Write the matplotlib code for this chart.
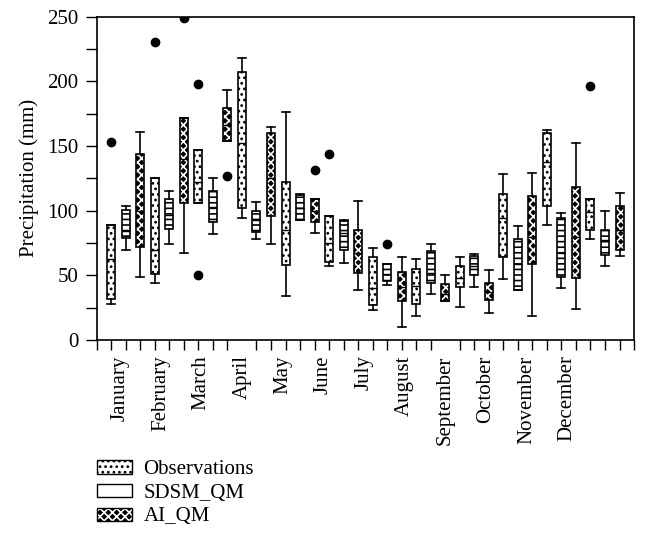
import matplotlib
matplotlib.use("Agg")
import matplotlib.pyplot as plt
from matplotlib.patches import Patch, PathPatch

plt.rcParams['font.family'] = ['Liberation Serif', 'DejaVu Serif']
plt.rcParams['hatch.linewidth'] = 1.2

months = ['January', 'February', 'March', 'April', 'May', 'June', 'July',
          'August', 'September', 'October', 'November', 'December']

# box statistics per month: lower whisker, Q1, median, Q3, upper whisker
obs_lo = [28, 44, 106, 94, 34, 57, 23, 19, 26, 47, 89, 78]
obs_q1 = [32, 51, 106, 102, 58, 60, 27, 28, 41, 64, 104, 85]
obs_med = [63, 70, 122, 152, 85, 75, 40, 42, 48, 94, 138, 99]
obs_q3 = [89, 125, 147, 207, 122, 96, 64, 55, 57, 113, 160, 109]
obs_hi = [89, 125, 147, 218, 176, 96, 71, 63, 64, 128, 162, 109]
obs_out = [[153], [230], [198, 50], [], [], [144], [], [], [], [], [], [196]]

sdsm_lo = [70, 74, 82, 78, 93, 59.5, 42.5, 36, 41, 39, 40, 57.5]
sdsm_q1 = [79, 86, 91.5, 83.5, 93, 70, 45.6, 44, 50, 39, 49, 66]
sdsm_med = [84, 97, 103, 93, 102, 82.5, 51, 52, 57, 59, 67, 77]
sdsm_q3 = [100.5, 109, 115, 100, 112, 92.3, 59, 69, 65, 78, 94, 85]
sdsm_hi = [104, 115, 125, 107, 113, 93, 59, 74, 66.5, 88, 98, 100]
sdsm_out = [[], [], [], [], [], [], [74], [], [], [], [], []]

ai_lo = [49, 67, 154, 74.5, 83, 39, 10, 30, 21, 19, 24, 65]
ai_q1 = [72, 106, 154, 96, 91, 52, 30, 30, 31, 59, 48, 70]
ai_med = [100, 140, 166, 125, 100, 67, 41, 36, 37, 80, 80, 85]
ai_q3 = [144, 172, 179, 160, 109, 85, 53, 43, 44, 111, 118.5, 104]
ai_hi = [161, 172, 193, 165, 109, 107.5, 64, 50, 54, 129, 152, 114]
ai_out = [[], [248.5], [127], [], [131.5], [], [], [], [], [], [], []]


def stats(lo, q1, med, q3, hi, out):
    return [dict(whislo=a, q1=b, med=c, q3=d, whishi=e, fliers=f)
            for a, b, c, d, e, f in zip(lo, q1, med, q3, hi, out)]


fig = plt.figure(figsize=(6.45, 5.34), dpi=100)
ax = fig.add_axes([0.150, 0.363, 0.833, 0.606])

n = len(months)
w = 0.55
common = dict(widths=w, patch_artist=True, capwidths=w, manage_ticks=False,
              whiskerprops=dict(color='black', lw=1.2),
              capprops=dict(color='black', lw=1.2),
              medianprops=dict(color='black', lw=1.0),
              flierprops=dict(marker='o', markerfacecolor='black',
                              markeredgecolor='black', markersize=6))

b1 = ax.bxp(stats(obs_lo, obs_q1, obs_med, obs_q3, obs_hi, obs_out),
            positions=[1 + 3 * i for i in range(n)], **common)
b2 = ax.bxp(stats(sdsm_lo, sdsm_q1, sdsm_med, sdsm_q3, sdsm_hi, sdsm_out),
            positions=[2 + 3 * i for i in range(n)], **common)
b3 = ax.bxp(stats(ai_lo, ai_q1, ai_med, ai_q3, ai_hi, ai_out),
            positions=[3 + 3 * i for i in range(n)], **common)

for box in b1['boxes']:
    box.set(facecolor='white', edgecolor='black', hatch='...', lw=1.2)
for box in b2['boxes']:
    box.set(facecolor='white', edgecolor='black', hatch='---', lw=1.2)
for box in b3['boxes']:
    box.set(facecolor='black', edgecolor='white', hatch='xxxx', lw=0)
    ax.add_patch(PathPatch(box.get_path(), fill=False, edgecolor='black', lw=1.2, zorder=3))

ax.set_xlim(0, 37)
ax.set_ylim(0, 250)
ax.set_yticks([0, 50, 100, 150, 200, 250])
ax.set_yticks([25, 75, 125, 175, 225], minor=True)
ax.set_xticks([1.6 + 2.8 * i for i in range(n)])
ax.set_xticklabels(months, rotation=90, fontsize=15)
ax.set_xticks(range(0, 38), minor=True)
ax.tick_params(axis='x', which='major', length=0, pad=11)
ax.tick_params(axis='x', which='minor', length=7, direction='out', width=1)
ax.tick_params(axis='y', which='both', length=8, direction='out', width=1,
               labelsize=15, pad=5)
ax.set_ylabel('Precipitation (mm)', fontsize=15, labelpad=6)
for s in ax.spines.values():
    s.set_linewidth(1.2)

handles = [Patch(facecolor='white', edgecolor='black', hatch='...'),
           Patch(facecolor='white', edgecolor='black'),
           (Patch(facecolor='black', edgecolor='white', hatch='xxxx', lw=0),
            Patch(fill=False, edgecolor='black'))]
fig.legend(handles, ['Observations', 'SDSM_QM', 'AI_QM'], loc='upper left',
           bbox_to_anchor=(0.150, 0.138), frameon=False, fontsize=15,
           handlelength=1.7, handleheight=0.6, labelspacing=0.22, borderaxespad=0,
           handletextpad=0.55, borderpad=0)

fig.savefig('out.png', dpi=100)
